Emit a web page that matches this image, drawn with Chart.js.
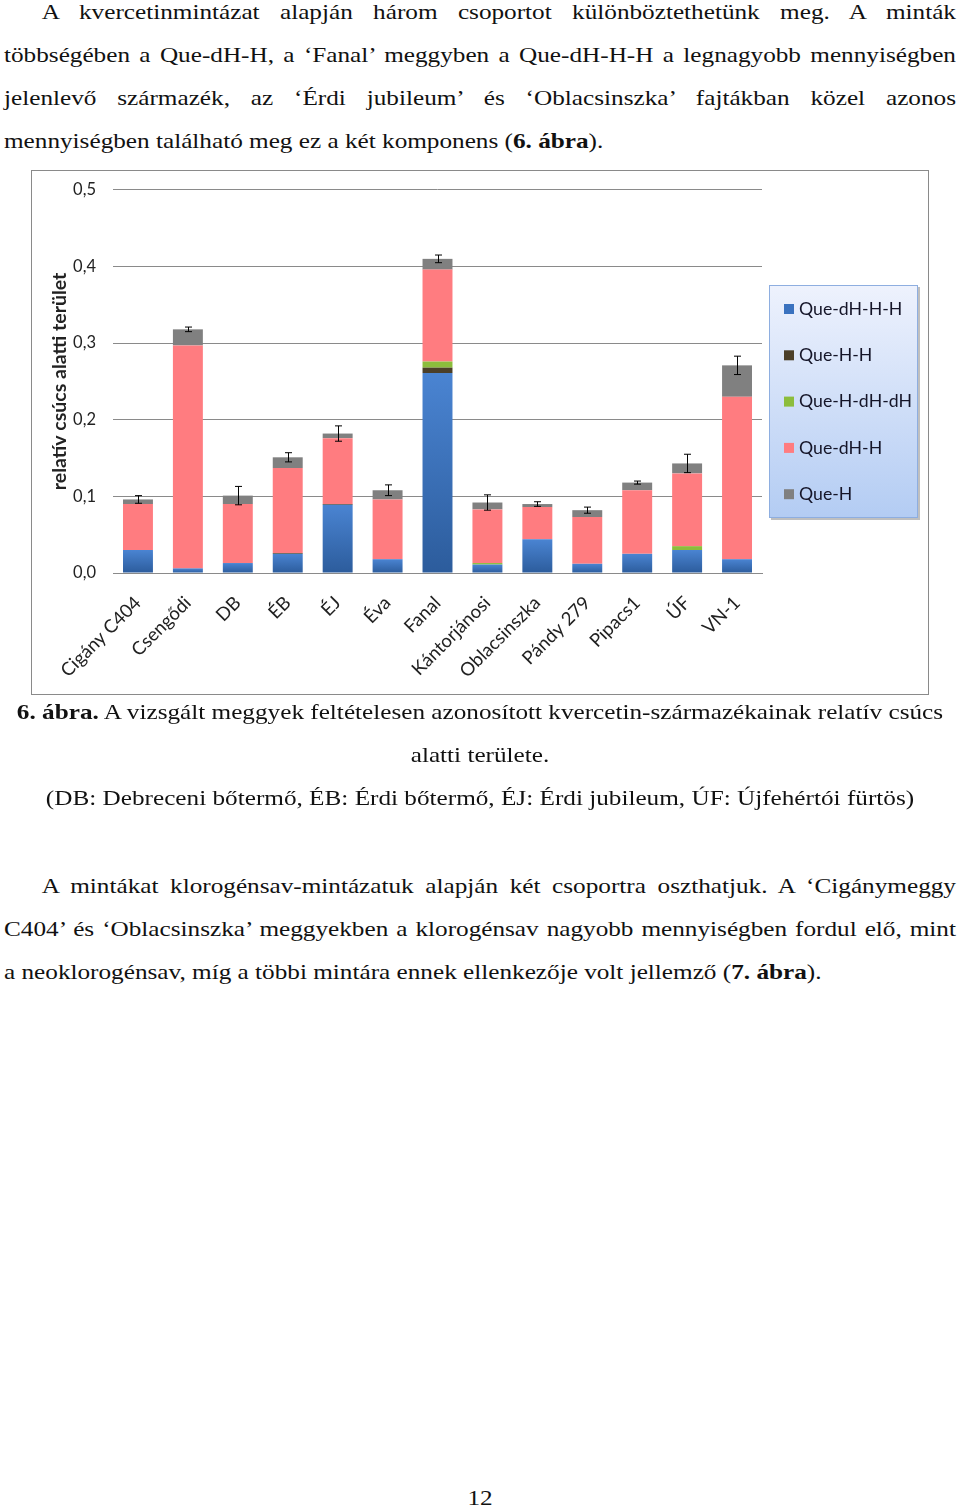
<!DOCTYPE html>
<html lang="hu">
<head>
<meta charset="utf-8">
<script src="https://cdn.jsdelivr.net/npm/chart.js@4/dist/chart.umd.min.js"></script>
<style>
    body { margin: 0; width: 960px; height: 1509px; background: #fff; position: relative; overflow: hidden;
           font-family: "Liberation Serif", "Times New Roman", serif; font-size: 22px; color: #111; }
    /* a szöveg a mintán vízszintesen kissé nyújtott */
    .blk { position: absolute; left: 4px; width: 830.7px; line-height: 43px;
           transform: scaleX(1.146); transform-origin: 0 0; }
    .j { text-align: justify; text-align-last: justify; white-space: nowrap; }
    .j.last { text-align-last: left; }
    .ind { text-indent: 33px; }
    .c { text-align: center; white-space: nowrap; }
    #box { position: absolute; left: 31px; top: 170px; width: 898px; height: 525px;
           border: 1px solid #8a8a8a; box-sizing: border-box; background: #fff; overflow: hidden; }
    #wrap { position: absolute; left: 0; top: -8px; width: 896px; height: 531px; }
</style>
</head>
<body>

<div class="blk" style="top:-10px">
    <div class="j ind">A kvercetinmintázat alapján három csoportot különböztethetünk meg. A minták</div>
    <div class="j">többségében a Que-dH-H, a ‘Fanal’ meggyben a Que-dH-H-H a legnagyobb mennyiségben</div>
    <div class="j">jelenlevő származék, az ‘Érdi jubileum’ és ‘Oblacsinszka’ fajtákban közel azonos</div>
    <div class="j last">mennyiségben található meg ez a két komponens (<b>6. ábra</b>).</div>
</div>

<div id="box"><div id="wrap"><canvas id="myChart"></canvas></div></div>

<div class="blk" style="top:690px">
    <div class="c"><b>6. ábra.</b> A vizsgált meggyek feltételesen azonosított kvercetin-származékainak relatív csúcs</div>
    <div class="c">alatti területe.</div>
    <div class="c">(DB: Debreceni bőtermő, ÉB: Érdi bőtermő, ÉJ: Érdi jubileum, ÚF: Újfehértói fürtös)</div>
</div>

<div class="blk" style="top:864px">
    <div class="j ind">A mintákat klorogénsav-mintázatuk alapján két csoportra oszthatjuk. A ‘Cigánymeggy</div>
    <div class="j">C404’ és ‘Oblacsinszka’ meggyekben a klorogénsav nagyobb mennyiségben fordul elő, mint</div>
    <div class="j last">a neoklorogénsav, míg a többi mintára ennek ellenkezője volt jellemző (<b>7. ábra</b>).</div>
</div>

<div class="blk c" style="top:1476px">12</div>

<script>
let chart;

const categories = ['Cigány C404', 'Csengődi', 'DB', 'ÉB', 'ÉJ', 'Éva', 'Fanal',
    'Kántorjánosi', 'Oblacsinszka', 'Pándy 279', 'Pipacs1', 'ÚF', 'VN-1'];

// relatív csúcs alatti terület, komponensenként (alulról felfelé)
const queDHHH  = [0.030, 0.006, 0.013, 0.025, 0.089, 0.018, 0.261, 0.011, 0.044, 0.012, 0.025, 0.030, 0.018];
const queHH    = [0, 0, 0, 0.001, 0.001, 0, 0.007, 0, 0, 0, 0, 0, 0];
const queHdHdH = [0, 0, 0, 0, 0, 0, 0.008, 0.002, 0, 0, 0, 0.005, 0];
const queDHH   = [0.060, 0.291, 0.077, 0.111, 0.086, 0.078, 0.120, 0.070, 0.042, 0.061, 0.083, 0.095, 0.212];
const queH     = [0.006, 0.021, 0.011, 0.014, 0.006, 0.012, 0.014, 0.009, 0.004, 0.009, 0.010, 0.013, 0.041];
// hibasáv (± szórás) az oszlop tetején
const errors   = [0.005, 0.003, 0.012, 0.006, 0.010, 0.007, 0.005, 0.010, 0.003, 0.004, 0.002, 0.012, 0.012];

const yTicks = [0, 0.1, 0.2, 0.3, 0.4, 0.5];

// kék oszlopok: Excel-szerű színátmenet minden oszlopon
function blueGradient(context) {
    const chart = context.chart;
    const y = chart.scales.y;
    if (!y || context.dataIndex === undefined) return '#3a72bf';
    const top = y.getPixelForValue(context.raw || 0);
    const bottom = y.getPixelForValue(0);
    if (!isFinite(top) || !isFinite(bottom) || bottom - top < 1) return '#3a72bf';
    const g = chart.ctx.createLinearGradient(0, top, 0, bottom);
    g.addColorStop(0, '#4a84d2');
    g.addColorStop(1, '#2c5c9c');
    return g;
}

const errorBars = {
    id: 'errorBars',
    afterDatasetsDraw(chart) {
        const ctx = chart.ctx;
        const y = chart.scales.y;
        const meta = chart.getDatasetMeta(chart.data.datasets.length - 1);
        ctx.save();
        ctx.strokeStyle = '#000';
        ctx.lineWidth = 1;
        categories.forEach((c, i) => {
            const total = queDHHH[i] + queHH[i] + queHdHdH[i] + queDHH[i] + queH[i];
            const x = Math.round(meta.data[i].x) + 0.5;
            const y1 = y.getPixelForValue(total + errors[i]);
            const y2 = y.getPixelForValue(total - errors[i]);
            ctx.beginPath();
            ctx.moveTo(x, y1); ctx.lineTo(x, y2);
            ctx.moveTo(x - 3.5, y1); ctx.lineTo(x + 3.5, y1);
            ctx.moveTo(x - 3.5, y2); ctx.lineTo(x + 3.5, y2);
            ctx.stroke();
        });
        ctx.restore();
    }
};

const boxLegend = {
    id: 'boxLegend',
    afterDraw(chart) {
        const ctx = chart.ctx;
        const left = chart.chartArea.right + 7;
        const top = 122, w = 149, h = 233;
        ctx.save();
        ctx.fillStyle = 'rgba(0,0,0,0.25)';
        ctx.fillRect(left + 2, top + 2, w, h);
        const g = ctx.createLinearGradient(0, top, 0, top + h);
        g.addColorStop(0, '#eef2fd');
        g.addColorStop(1, '#b3ccf3');
        ctx.fillStyle = g;
        ctx.fillRect(left, top, w, h);
        ctx.strokeStyle = '#8eaee0';
        ctx.strokeRect(left + 0.5, top + 0.5, w - 1, h - 1);
        ctx.font = '17.7px Lato';
        ctx.textBaseline = 'middle';
        chart.data.datasets.forEach((ds, i) => {
            const cy = top + 24 + i * 46.3;
            ctx.fillStyle = ds.legendColor;
            ctx.fillRect(left + 15, cy - 5, 10, 10);
            ctx.fillStyle = '#151528';
            ctx.fillText(ds.label, left + 30, cy);
        });
        ctx.restore();
    }
};

function createChart() {
    const ctx = document.getElementById('myChart').getContext('2d');
    Chart.defaults.font.family = 'Lato';
    chart = new Chart(ctx, {
        type: 'bar',
        data: {
            labels: categories,
            datasets: [
                { label: 'Que-dH-H-H', data: queDHHH, backgroundColor: blueGradient, legendColor: '#3a72bf' },
                { label: 'Que-H-H', data: queHH, backgroundColor: '#4b3f28', legendColor: '#4b3f28' },
                { label: 'Que-H-dH-dH', data: queHdHdH, backgroundColor: '#8cbd3c', legendColor: '#8cbd3c' },
                { label: 'Que-dH-H', data: queDHH, backgroundColor: '#ff7c80', legendColor: '#ff7c80' },
                { label: 'Que-H', data: queH, backgroundColor: '#808080', legendColor: '#808080' }
            ]
        },
        options: {
            responsive: true,
            maintainAspectRatio: false,
            animation: false,
            datasets: { bar: { barPercentage: 0.6, categoryPercentage: 1 } },
            layout: { padding: { top: 8, right: 166, left: 16, bottom: 0 } },
            plugins: { legend: { display: false }, tooltip: { enabled: false } },
            scales: {
                x: {
                    stacked: true,
                    grid: { display: false },
                    border: { color: '#8a8a8a' },
                    ticks: { maxRotation: 45, minRotation: 45, autoSkip: false, padding: 11, color: '#222',
                             font: { size: 18.5 } },
                    afterFit: (scale) => { scale.height = 121; }
                },
                y: {
                    stacked: true,
                    min: 0,
                    max: 0.5,
                    afterBuildTicks: (scale) => { scale.ticks = yTicks.map(v => ({ value: v })); },
                    ticks: {
                        padding: 17,
                        color: '#222',
                        font: { size: 16.5 },
                        callback: (v) => v.toFixed(1).replace('.', ',')
                    },
                    grid: { color: '#8a8a8a', drawTicks: false },
                    border: { display: false },
                    title: { display: true, text: 'relatív csúcs alatti terület', color: '#222',
                             font: { size: 19.5, weight: 'bold' }, padding: 0 },
                    afterFit: (scale) => { scale.width = 65; }
                }
            }
        },
        plugins: [errorBars, boxLegend]
    });
}

document.addEventListener('DOMContentLoaded', function () {
    createChart();
});
</script>
</body>
</html>
